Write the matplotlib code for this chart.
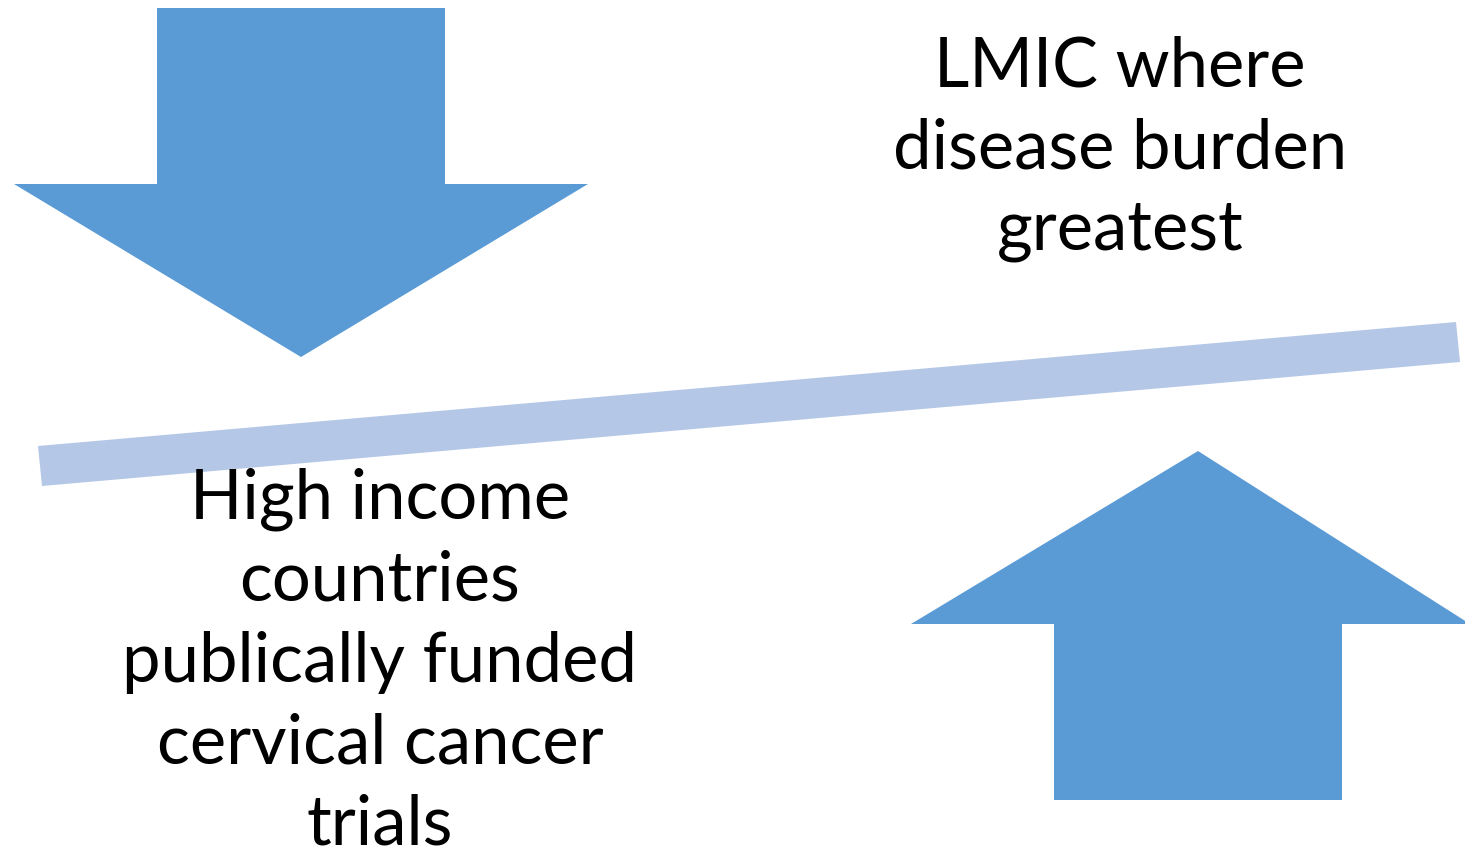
import matplotlib.pyplot as plt
from matplotlib.patches import Polygon

plt.rcParams['font.family'] = ['Lato', 'DejaVu Sans']

W, H = 1465, 851

# shapes in picture pixels (y grows downward)
down_arrow = [(157, 8), (445, 8), (445, 184), (588, 184), (301, 357),
              (14, 184), (157, 184)]
up_arrow = [(1198, 451), (1470, 624), (1342, 624), (1342, 800),
            (1054, 800), (1054, 624), (911, 624)]
beam = [(38, 446), (1456, 322), (1460, 362), (42, 486)]

top_text = ['LMIC where', 'disease burden', 'greatest']
top_y = [67, 149, 231]
bottom_text = ['High income', 'countries', 'publically funded',
               'cervical cancer', 'trials']
bottom_y = [499, 581, 662, 744, 825]

arrow_color = '#5B9BD5'
beam_color = '#B4C7E7'

fig = plt.figure(figsize=(W / 100, H / 100), dpi=100)
ax = fig.add_axes([0, 0, 1, 1])
ax.set_xlim(0, W)
ax.set_ylim(H, 0)
ax.axis('off')

ax.add_patch(Polygon(down_arrow, closed=True, color=arrow_color, lw=0))
ax.add_patch(Polygon(up_arrow, closed=True, color=arrow_color, lw=0))
ax.add_patch(Polygon(beam, closed=True, color=beam_color, lw=0))

for s, y in zip(top_text, top_y):
    ax.text(1120, y, s, ha='center', va='center', fontsize=49.5, color='black')
for s, y in zip(bottom_text, bottom_y):
    ax.text(380, y, s, ha='center', va='center', fontsize=49.5, color='black')

fig.savefig('out.png', dpi=100)
